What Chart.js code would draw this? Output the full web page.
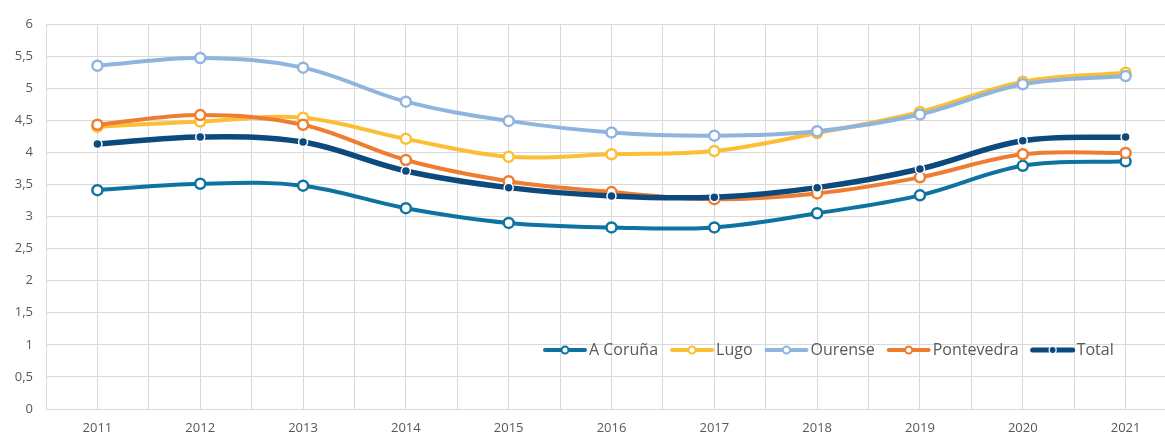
<!DOCTYPE html>
<html>
<head>
<meta charset="utf-8">
<script src="https://cdn.jsdelivr.net/npm/chart.js@4/dist/chart.umd.min.js"></script>
<style>
  html, body { margin: 0; padding: 0; background: #fff; overflow: hidden; }
  #c { display: block; }
</style>
</head>
<body>
<canvas id="c" width="1188" height="436"></canvas>
<script>
// Years on the horizontal axis
const years = [2011, 2012, 2013, 2014, 2015, 2016, 2017, 2018, 2019, 2020, 2021];

// Series values per province
const aCoruna    = [3.41, 3.51, 3.48, 3.13, 2.90, 2.83, 2.83, 3.05, 3.33, 3.79, 3.86];
const lugo       = [4.40, 4.48, 4.54, 4.21, 3.93, 3.97, 4.02, 4.30, 4.63, 5.10, 5.24];
const ourense    = [5.35, 5.47, 5.32, 4.79, 4.49, 4.31, 4.26, 4.33, 4.59, 5.06, 5.19];
const pontevedra = [4.43, 4.58, 4.43, 3.88, 3.55, 3.38, 3.27, 3.36, 3.61, 3.97, 3.99];
const total      = [4.13, 4.24, 4.16, 3.71, 3.45, 3.32, 3.30, 3.45, 3.74, 4.18, 4.24];

const seriesNames = ['A Coruña', 'Lugo', 'Ourense', 'Pontevedra', 'Total'];

// Y axis range and step
const yMin = 0, yMax = 6, yStep = 0.5;

const FONT = '"Open Sans", "DejaVu Sans", sans-serif';
const TEXT = '#595959';
const GRID = '#d9d9d9';

const toPoints = vals => vals.map((v, i) => ({ x: years[i], y: v }));

function ringSeries(label, vals, color, order) {
  return {
    label, data: toPoints(vals), order,
    borderColor: color, backgroundColor: '#ffffff',
    borderWidth: 4, tension: 0.36,
    pointRadius: 5, pointBorderWidth: 2.5,
    pointBackgroundColor: '#ffffff', pointBorderColor: color,
    legendDot: 'ring'
  };
}

const datasets = [
  ringSeries(seriesNames[0], aCoruna, '#0e73a0', 5),
  ringSeries(seriesNames[1], lugo, '#fbbe35', 4),
  ringSeries(seriesNames[2], ourense, '#8fb4dd', 3),
  ringSeries(seriesNames[3], pontevedra, '#ef7d31', 2),
  {
    label: seriesNames[4], data: toPoints(total), order: 1,
    borderColor: '#0c4a7d', backgroundColor: '#0c4a7d',
    borderWidth: 5.5, tension: 0.36,
    pointRadius: 4.5, pointBorderWidth: 1.5,
    pointBackgroundColor: '#0c4a7d', pointBorderColor: '#ffffff',
    legendDot: 'filled'
  }
];

// Legend drawn inside the plot, lower right, with line + marker swatches
const insideLegend = {
  id: 'insideLegend',
  afterDraw(chart) {
    const ctx = chart.ctx;
    const y = 350;
    let x = 543;
    ctx.save();
    ctx.font = '16px ' + FONT;
    ctx.textBaseline = 'middle';
    ctx.textAlign = 'left';
    chart.data.datasets.forEach(ds => {
      const lineW = 44;
      ctx.strokeStyle = ds.borderColor;
      ctx.lineWidth = ds.legendDot === 'filled' ? 5 : 4;
      ctx.lineCap = 'round';
      ctx.beginPath();
      ctx.moveTo(x + 2, y);
      ctx.lineTo(x + lineW - 2, y);
      ctx.stroke();
      ctx.beginPath();
      ctx.arc(x + lineW / 2, y, 3.5, 0, Math.PI * 2);
      if (ds.legendDot === 'filled') {
        ctx.fillStyle = ds.borderColor; ctx.fill();
        ctx.lineWidth = 1.2; ctx.strokeStyle = '#ffffff'; ctx.stroke();
      } else {
        ctx.fillStyle = '#ffffff'; ctx.fill();
        ctx.lineWidth = 2; ctx.strokeStyle = ds.borderColor; ctx.stroke();
      }
      x += lineW + 2;
      ctx.fillStyle = TEXT;
      ctx.fillText(ds.label, x, y);
      x += ctx.measureText(ds.label).width + 12;
    });
    ctx.restore();
  }
};

new Chart(document.getElementById('c'), {
  type: 'line',
  data: { datasets },
  plugins: [insideLegend],
  options: {
    responsive: false,
    animation: false,
    layout: { padding: { top: 24, right: 3, left: 0, bottom: 0 } },
    plugins: { legend: { display: false }, tooltip: { enabled: false }, title: { display: false } },
    scales: {
      x: {
        type: 'linear',
        min: years[0] - 0.5, max: years[years.length - 1] + 0.5,
        grid: { color: GRID, lineWidth: 1, drawTicks: false },
        border: { color: GRID },
        afterFit(s) { s.height = 27; },
        ticks: {
          stepSize: 0.5, autoSkip: false, maxRotation: 0, padding: 11,
          color: TEXT, font: { family: FONT, size: 13 },
          callback: v => Number.isInteger(v) ? String(v) : ''
        }
      },
      y: {
        min: yMin, max: yMax,
        grid: { color: GRID, lineWidth: 1, drawTicks: false },
        border: { color: GRID },
        afterFit(s) { s.width = 46; },
        ticks: {
          stepSize: yStep, padding: 13,
          color: TEXT, font: { family: FONT, size: 13 },
          callback: v => String(v).replace('.', ',')
        }
      }
    }
  }
});
</script>
</body>
</html>
